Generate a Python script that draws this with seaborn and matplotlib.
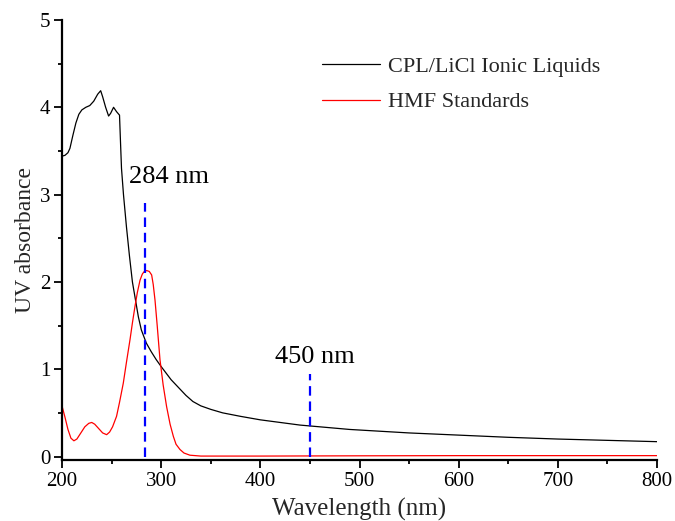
import matplotlib
matplotlib.use("Agg")
import matplotlib.pyplot as plt
import seaborn as sns
import pandas as pd
from matplotlib.ticker import MultipleLocator

# ---- data ----
cpl_x = [200, 203, 206, 208, 211, 214, 217, 220, 224, 228, 232, 236, 239, 241, 244, 247,
         249, 252, 255, 258, 259, 260, 262, 265, 268, 271, 274, 277, 280, 285, 290, 295,
         300, 310, 320, 325, 332, 340, 350, 362, 380, 400, 420, 440, 450, 490, 550, 600,
         650, 700, 750, 800]
cpl_y = [3.44, 3.45, 3.48, 3.53, 3.68, 3.82, 3.92, 3.97, 4.00, 4.02, 4.07, 4.15, 4.19, 4.12,
         4.00, 3.90, 3.93, 4.00, 3.95, 3.91, 3.60, 3.30, 3.00, 2.63, 2.30, 2.00, 1.80, 1.60,
         1.45, 1.30, 1.20, 1.11, 1.03, 0.88, 0.76, 0.70, 0.63, 0.58, 0.54, 0.50, 0.46, 0.42,
         0.39, 0.36, 0.35, 0.31, 0.27, 0.245, 0.22, 0.20, 0.185, 0.17]

hmf_x = [200, 203, 206, 209, 212, 215, 219, 223, 227, 230, 233, 237, 241, 245, 248, 251,
         255, 258, 261.8, 265, 268.6, 271, 273.6, 276, 278.7, 281, 283, 285.4, 288, 290.4,
         292, 293.8, 296, 298.8, 302, 305.5, 309, 312.3, 315, 319, 323, 329, 340, 400, 500,
         600, 700, 800]
hmf_y = [0.58, 0.45, 0.31, 0.21, 0.18, 0.20, 0.27, 0.34, 0.38, 0.39, 0.37, 0.32, 0.27, 0.25,
         0.28, 0.34, 0.46, 0.62, 0.84, 1.08, 1.34, 1.53, 1.72, 1.88, 2.02, 2.09, 2.12, 2.13,
         2.12, 2.08, 1.97, 1.79, 1.50, 1.11, 0.82, 0.57, 0.37, 0.23, 0.14, 0.08, 0.04, 0.015,
         0.005, 0.005, 0.008, 0.01, 0.01, 0.01]

series_names = ["CPL/LiCl Ionic Liquids", "HMF Standards"]
series_colors = ["#000000", "#ff0000"]

marker_x = [284, 450]
marker_top = [2.9, 0.95]
marker_labels = ["284 nm", "450 nm"]
marker_label_x = [267.5, 414.5]
marker_label_y = [3.13, 1.07]

x_label = "Wavelength (nm)"
y_label = "UV absorbance"

df = pd.concat([
    pd.DataFrame({"x": cpl_x, "y": cpl_y, "series": series_names[0]}),
    pd.DataFrame({"x": hmf_x, "y": hmf_y, "series": series_names[1]}),
])

sns.set_style("ticks")
plt.rcParams["font.family"] = ["Liberation Serif", "DejaVu Serif"]

fig = plt.figure(figsize=(6.75, 5.21), dpi=100)
ax = fig.add_axes([62 / 675, 1 - 460 / 521, 595 / 675, 440 / 521])

sns.lineplot(data=df, x="x", y="y", hue="series", palette=series_colors,
             hue_order=series_names, linewidth=0.9, ax=ax, sort=False,
             estimator=None)

ax.vlines(marker_x, [0, 0], marker_top, colors="#0000ff", linewidth=1.6,
          linestyles=(0, (4.3, 2.6)))
for lx, ly, t in zip(marker_label_x, marker_label_y, marker_labels):
    ax.text(lx, ly, t, fontsize=19, ha="left", va="baseline", color="black")

ax.set_xlim(200, 800)
ax.set_ylim(-0.04, 5)
ax.xaxis.set_major_locator(MultipleLocator(100))
ax.xaxis.set_minor_locator(MultipleLocator(50))
ax.yaxis.set_major_locator(MultipleLocator(1))
ax.yaxis.set_minor_locator(MultipleLocator(0.5))

for s in ["top", "right"]:
    ax.spines[s].set_visible(False)
for s in ["left", "bottom"]:
    ax.spines[s].set_linewidth(1.6)
    ax.spines[s].set_color("black")

ax.tick_params(which="major", direction="out", length=5.5, width=1.3,
               labelsize=15, colors="black", pad=3)
ax.tick_params(which="minor", direction="out", length=3, width=1.3, colors="black")

ax.set_xlabel(x_label, fontsize=18, labelpad=5)
ax.set_ylabel(y_label, fontsize=17, labelpad=2.5)

leg = ax.legend(loc="upper left", bbox_to_anchor=(0.437, 0.918), frameon=False,
                fontsize=16, handlelength=2.6, handletextpad=0.35,
                labelspacing=0.68, borderpad=0, borderaxespad=0)

fig.savefig("out.png", dpi=100)
